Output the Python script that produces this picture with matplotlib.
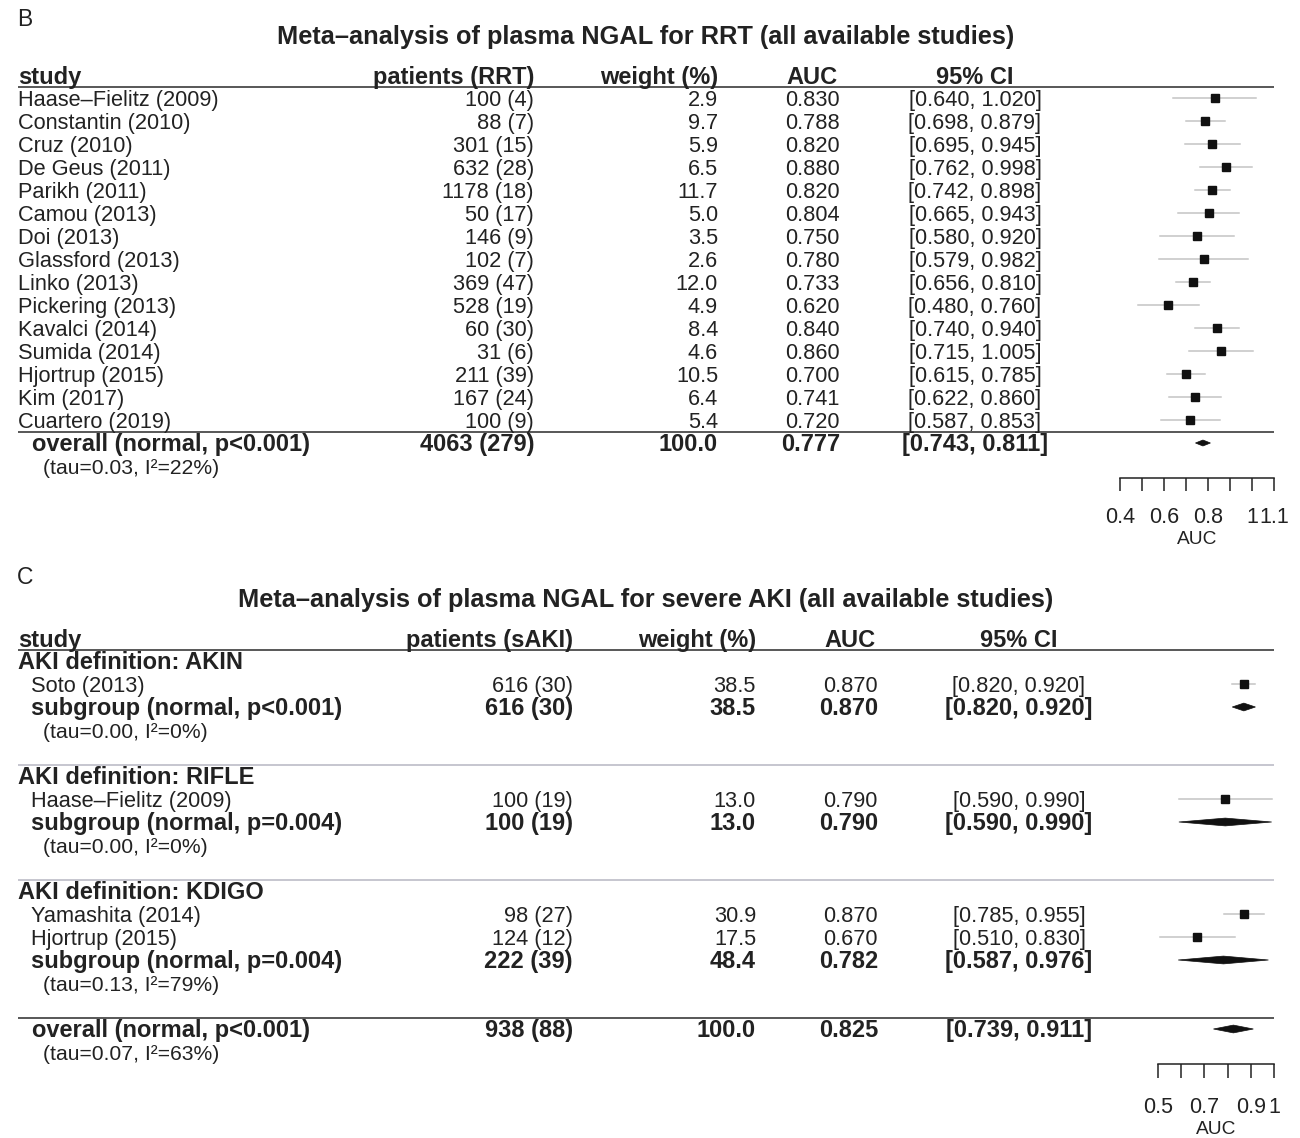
import matplotlib.pyplot as plt
from matplotlib.patches import Polygon

plt.rcParams["font.family"] = ["Liberation Sans", "DejaVu Sans"]

# ---- panel B: plasma NGAL for RRT ----
b_study = ["Haase–Fielitz (2009)", "Constantin (2010)", "Cruz (2010)", "De Geus (2011)",
           "Parikh (2011)", "Camou (2013)", "Doi (2013)", "Glassford (2013)", "Linko (2013)",
           "Pickering (2013)", "Kavalci (2014)", "Sumida (2014)", "Hjortrup (2015)",
           "Kim (2017)", "Cuartero (2019)"]
b_patients = [100, 88, 301, 632, 1178, 50, 146, 102, 369, 528, 60, 31, 211, 167, 100]
b_events = [4, 7, 15, 28, 18, 17, 9, 7, 47, 19, 30, 6, 39, 24, 9]
b_weight = [2.9, 9.7, 5.9, 6.5, 11.7, 5.0, 3.5, 2.6, 12.0, 4.9, 8.4, 4.6, 10.5, 6.4, 5.4]
b_auc = [0.830, 0.788, 0.820, 0.880, 0.820, 0.804, 0.750, 0.780, 0.733, 0.620,
         0.840, 0.860, 0.700, 0.741, 0.720]
b_lo = [0.640, 0.698, 0.695, 0.762, 0.742, 0.665, 0.580, 0.579, 0.656, 0.480,
        0.740, 0.715, 0.615, 0.622, 0.587]
b_hi = [1.020, 0.879, 0.945, 0.998, 0.898, 0.943, 0.920, 0.982, 0.810, 0.760,
        0.940, 1.005, 0.785, 0.860, 0.853]
b_overall = dict(label="overall (normal, p<0.001)", n=4063, e=279, w=100.0,
                 auc=0.777, lo=0.743, hi=0.811, het="(tau=0.03, I²=22%)")
b_ticks = [0.4, 0.5, 0.6, 0.7, 0.8, 0.9, 1.0, 1.1]
b_ticklabels = ["0.4", "", "0.6", "", "0.8", "", "1", "1.1"]

# ---- panel C: plasma NGAL for severe AKI, by AKI definition ----
c_groups = ["AKIN", "RIFLE", "KDIGO"]
c_study = [["Soto (2013)"], ["Haase–Fielitz (2009)"], ["Yamashita (2014)", "Hjortrup (2015)"]]
c_patients = [[616], [100], [98, 124]]
c_events = [[30], [19], [27, 12]]
c_weight = [[38.5], [13.0], [30.9, 17.5]]
c_auc = [[0.870], [0.790], [0.870, 0.670]]
c_lo = [[0.820], [0.590], [0.785, 0.510]]
c_hi = [[0.920], [0.990], [0.955, 0.830]]
c_sub_p = ["p<0.001", "p=0.004", "p=0.004"]
c_sub_n = [616, 100, 222]
c_sub_e = [30, 19, 39]
c_sub_w = [38.5, 13.0, 48.4]
c_sub_auc = [0.870, 0.790, 0.782]
c_sub_lo = [0.820, 0.590, 0.587]
c_sub_hi = [0.920, 0.990, 0.976]
c_sub_het = ["(tau=0.00, I²=0%)", "(tau=0.00, I²=0%)", "(tau=0.13, I²=79%)"]
c_overall = dict(label="overall (normal, p<0.001)", n=938, e=88, w=100.0,
                 auc=0.825, lo=0.739, hi=0.911, het="(tau=0.07, I²=63%)")
c_ticks = [0.5, 0.6, 0.7, 0.8, 0.9, 1.0]
c_ticklabels = ["0.5", "", "0.7", "", "0.9", "1"]

W, H = 1300, 1138
ROW = 23           # pixels per table row
FS = 15.7
FS_BOLD = 17.0
FS_HET = 15.2
INK = "#222222"
CI_GREY = "#c4c4c4"

fig = plt.figure(figsize=(W / 100, H / 100), dpi=100)


def px_axes(left, top, width, height):
    return fig.add_axes([left / W, 1 - (top + height) / H, width / W, height / H])


def make_panel(top, bottom, row0, fx0, fx1, xlim, ticks, ticklabels, tick_len=9, pad=12):
    """Table axes in pixel x / row y, plus a forest axes sharing the rows."""
    ylim = ((bottom - row0) / ROW, (top - row0) / ROW)
    tab = px_axes(0, top, W, bottom - top)
    tab.set_xlim(0, W)
    tab.set_ylim(*ylim)
    tab.axis("off")
    ax = px_axes(fx0, top, fx1 - fx0, bottom - top)
    ax.set_xlim(*xlim)
    ax.set_ylim(*ylim)
    ax.patch.set_visible(False)
    for s in ["left", "right", "top"]:
        ax.spines[s].set_visible(False)
    ax.spines["bottom"].set_linewidth(1.1)
    ax.spines["bottom"].set_color(INK)
    ax.set_yticks([])
    ax.set_xticks(ticks, ticklabels)
    ax.tick_params(axis="x", direction="out", length=tick_len, width=1.1, pad=pad,
                   labelsize=15.5, colors=INK)
    ax.set_xlabel("AUC", fontsize=13.8, color=INK, labelpad=2)
    return tab, ax


def put(tab, x, row, s, ha="left", bold=False, size=None):
    if size is None:
        size = FS_BOLD if bold else FS
    tab.text(x, row + 0.34, s, ha=ha, va="baseline", fontsize=size, color=INK,
             fontweight="bold" if bold else "normal")


def hline(tab, row, x0, x1, color):
    tab.plot([x0, x1], [row, row], color=color, lw=1.3, solid_capstyle="butt")


def study_mark(ax, row, est, lo, hi):
    ax.plot([lo, hi], [row, row], color=CI_GREY, lw=1.1, clip_on=False, zorder=2)
    ax.plot([est], [row], marker="s", ms=5.8, color="#111111", clip_on=False, zorder=3)


def diamond(ax, row, est, lo, hi, half):
    ax.add_patch(Polygon([(lo, row), (est, row - half), (hi, row), (est, row + half)],
                         closed=True, facecolor="#111111", edgecolor="#111111",
                         lw=0.5, clip_on=False, zorder=3))


def value_cols(tab, row, cols, n, e, w, auc, lo, hi, bold=False):
    put(tab, cols[0], row, f"{n} ({e})", ha="right", bold=bold)
    put(tab, cols[1], row, f"{w:.1f}", ha="right", bold=bold)
    put(tab, cols[2], row, f"{auc:.3f}", ha="right", bold=bold)
    put(tab, cols[3], row, f"[{lo:.3f}, {hi:.3f}]", ha="center", bold=bold)


# ---------------- panel B ----------------
fig.text(17 / W, 1 - 20 / H, "B", fontsize=16.5, color=INK, va="center", ha="left")
fig.text(646 / W, 1 - 37 / H, "Meta–analysis of plasma NGAL for RRT (all available studies)",
         fontsize=18.3, fontweight="bold", color=INK, ha="center", va="center")

tab, ax = make_panel(top=55, bottom=478, row0=98, fx0=1120, fx1=1274,
                     xlim=(0.4, 1.1), ticks=b_ticks, ticklabels=b_ticklabels)
cols_b = [534, 718, 840, 975]
head_y = -0.5 - 0.47
put(tab, 18, head_y, "study", bold=True)
put(tab, cols_b[0], head_y, "patients (RRT)", ha="right", bold=True)
put(tab, cols_b[1], head_y, "weight (%)", ha="right", bold=True)
put(tab, cols_b[2] - 2, head_y, "AUC", ha="right", bold=True)
put(tab, cols_b[3], head_y, "95% CI", ha="center", bold=True)
hline(tab, -0.5, 18, 1274, "#4a4a4a")

for i, name in enumerate(b_study):
    put(tab, 18, i, name)
    value_cols(tab, i, cols_b, b_patients[i], b_events[i], b_weight[i],
               b_auc[i], b_lo[i], b_hi[i])
    study_mark(ax, i, b_auc[i], b_lo[i], b_hi[i])

r = len(b_study)
hline(tab, r - 0.5, 18, 1274, "#4a4a4a")
put(tab, 32, r, b_overall["label"], bold=True)
value_cols(tab, r, cols_b, b_overall["n"], b_overall["e"], b_overall["w"],
           b_overall["auc"], b_overall["lo"], b_overall["hi"], bold=True)
diamond(ax, r, b_overall["auc"], b_overall["lo"], b_overall["hi"], 0.13)
put(tab, 43, r + 1, b_overall["het"], size=FS_HET)

# ---------------- panel C ----------------
fig.text(17 / W, 1 - 578 / H, "C", fontsize=16.5, color=INK, va="center", ha="left")
fig.text(646 / W, 1 - 600 / H, "Meta–analysis of plasma NGAL for severe AKI (all available studies)",
         fontsize=18.3, fontweight="bold", color=INK, ha="center", va="center")

tab, ax = make_panel(top=618, bottom=1063.5, row0=661, fx0=1158, fx1=1274,
                     xlim=(0.5, 1.0), ticks=c_ticks, ticklabels=c_ticklabels,
                     tick_len=10, pad=14)
cols_c = [573, 756, 878, 1019]
put(tab, 18, head_y, "study", bold=True)
put(tab, cols_c[0], head_y, "patients (sAKI)", ha="right", bold=True)
put(tab, cols_c[1], head_y, "weight (%)", ha="right", bold=True)
put(tab, cols_c[2] - 2, head_y, "AUC", ha="right", bold=True)
put(tab, cols_c[3], head_y, "95% CI", ha="center", bold=True)
hline(tab, -0.5, 18, 1274, "#4a4a4a")

r = 0
for g, grp in enumerate(c_groups):
    if g > 0:
        hline(tab, r - 0.5, 18, 1274, "#c2c2cc")
    put(tab, 18, r, f"AKI definition: {grp}", bold=True)
    r += 1
    for j, name in enumerate(c_study[g]):
        put(tab, 31, r, name)
        value_cols(tab, r, cols_c, c_patients[g][j], c_events[g][j], c_weight[g][j],
                   c_auc[g][j], c_lo[g][j], c_hi[g][j])
        study_mark(ax, r, c_auc[g][j], c_lo[g][j], c_hi[g][j])
        r += 1
    put(tab, 31, r, f"subgroup (normal, {c_sub_p[g]})", bold=True)
    value_cols(tab, r, cols_c, c_sub_n[g], c_sub_e[g], c_sub_w[g],
               c_sub_auc[g], c_sub_lo[g], c_sub_hi[g], bold=True)
    diamond(ax, r, c_sub_auc[g], c_sub_lo[g], c_sub_hi[g], 0.17)
    put(tab, 43, r + 1, c_sub_het[g], size=FS_HET)
    r += 3

hline(tab, r - 0.5, 18, 1274, "#4a4a4a")
put(tab, 32, r, c_overall["label"], bold=True)
value_cols(tab, r, cols_c, c_overall["n"], c_overall["e"], c_overall["w"],
           c_overall["auc"], c_overall["lo"], c_overall["hi"], bold=True)
diamond(ax, r, c_overall["auc"], c_overall["lo"], c_overall["hi"], 0.17)
put(tab, 43, r + 1, c_overall["het"], size=FS_HET)

fig.savefig("out.png", dpi=100, facecolor="white")
